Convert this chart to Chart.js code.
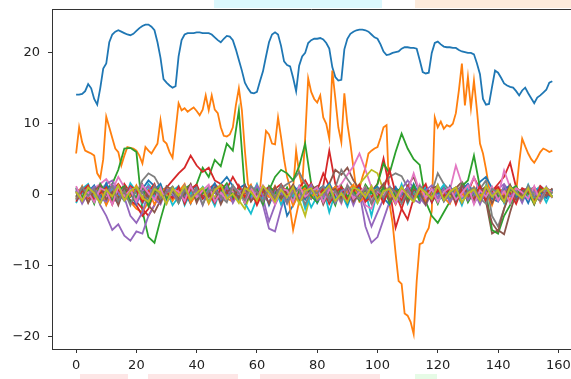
<!DOCTYPE html>
<html>
<head>
<meta charset="utf-8">
<script src="https://cdn.jsdelivr.net/npm/chart.js@4.4.0/dist/chart.umd.min.js"></script>
<style>
  html, body { margin: 0; padding: 0; background: #fff; }
  #wrap { width: 571px; height: 379px; }
</style>
</head>
<body>
<div id="wrap"><canvas id="lineChart" width="571" height="379"></canvas></div>
<script>
// tick labels
const xTicks = [0, 20, 40, 60, 80, 100, 120, 140, 160];
const yTicks = [-20, -10, 0, 10, 20];

// matplotlib tab10 cycle
const tab10 = ['#1f77b4', '#ff7f0e', '#2ca02c', '#d62728', '#9467bd',
               '#8c564b', '#e377c2', '#7f7f7f', '#bcbd22', '#17becf'];

// series 0 (blue), one value per step 0..158
const seriesTop = [
  14.1, 14.1, 14.2, 14.6, 15.6, 15.0, 13.5, 12.7, 15.0, 17.8,
  18.5, 21.5, 22.6, 23.0, 23.2, 23.0, 22.8, 22.6, 22.5, 22.7,
  23.1, 23.5, 23.8, 24.0, 24.0, 23.7, 23.2, 21.5, 19.3, 16.3,
  15.8, 15.4, 15.1, 15.3, 19.5, 21.8, 22.6, 22.8, 22.8, 22.8,
  22.9, 22.9, 22.8, 22.8, 22.8, 22.6, 22.2, 21.8, 21.5, 22.0,
  22.4, 22.3, 21.8, 20.5, 19.0, 17.5, 15.8, 15.0, 14.4, 14.3,
  14.5, 16.0, 17.4, 19.5, 21.5, 22.6, 22.9, 22.6, 21.0, 18.8,
  18.3, 18.1, 16.5, 14.6, 18.2, 19.5, 20.0, 21.4, 21.8, 22.0,
  22.0, 22.1, 21.9, 21.4, 20.6, 18.0, 16.6, 16.1, 16.2, 20.5,
  22.0, 22.7, 23.0, 23.2, 23.3, 23.3, 23.2, 23.0, 22.6, 22.2,
  22.0, 21.2, 20.2, 19.7, 19.8, 20.0, 20.1, 20.2, 20.6, 20.8,
  20.8, 20.7, 20.7, 20.6, 19.0, 17.3, 17.1, 17.2, 20.0, 21.4,
  21.6, 21.2, 20.9, 20.8, 20.8, 20.7, 20.7, 20.4, 20.2, 20.1,
  20.0, 20.0, 19.8, 18.5, 17.0, 13.5, 12.7, 12.8, 15.2, 17.5,
  17.2, 16.5, 15.7, 15.4, 15.2, 15.1, 14.6, 14.0, 14.7, 15.1,
  14.3, 13.6, 12.9, 13.7, 14.0, 14.4, 14.8, 15.8, 16.0
];

// series 1 (orange), one value per step 0..158
const seriesWide = [
  5.8, 9.5, 7.4, 6.2, 6.0, 5.8, 5.5, 3.0, 2.3, 5.0,
  11.0, 9.5, 8.0, 6.5, 6.0, 4.1, 5.5, 6.7, 6.6, 6.5,
  6.2, 5.5, 4.4, 6.7, 6.2, 5.8, 6.5, 7.2, 10.5, 7.6,
  7.2, 6.0, 5.2, 9.0, 12.9, 11.9, 12.2, 11.7, 12.0, 12.3,
  11.8, 11.2, 12.0, 14.0, 11.9, 14.0, 12.0, 11.5, 9.5, 8.3,
  8.2, 8.5, 9.5, 12.6, 15.0, 11.9, 6.2, 1.5, 0.5, 0.8,
  1.2, 0.6, 5.0, 9.0, 8.5, 7.2, 7.1, 10.9, 8.1, 5.0,
  2.5, 1.0, 0.8, 6.2, 3.0, 1.2, 8.0, 16.4, 14.5, 13.5,
  13.0, 14.0, 10.9, 10.0, 7.9, 17.5, 13.6, 9.5, 7.4, 14.3,
  10.0, 7.2, 3.8, 0.5, 0.8, 2.5, 3.8, 5.8, 6.2, 6.5,
  6.7, 8.0, 9.5, 9.8, -1.3, -4.0, -8.3, -12.2, -12.6, -16.8,
  -17.1, -18.0, -19.7, -12.2, -7.0, -6.8, -5.5, -4.7, -2.3, 10.9,
  9.5, 10.3, 9.3, 9.8, 9.6, 10.0, 11.5, 14.7, 18.5, 12.6,
  16.6, 12.2, 16.1, 11.9, 7.2, 5.8, 3.6, 1.0, 0.3, 0.5,
  -0.3, 0.6, 0.2, -0.4, 0.5, 0.8, 0.3, 4.5, 7.9, 6.8,
  5.8, 5.0, 4.5, 5.2, 6.0, 6.5, 6.3, 6.0, 6.2
];

// series 2..28, sampled at every second step (0, 2, ... 158)
const noise02 = [0.5,-0.8,1.2,0.3,-0.5,0.8,1.5,3.5,6.5,6.6, 6.0,-2.3,-6.0,-6.8,-3.5,-0.5,0.6,1.0,-0.2,0.4, 1.5,3.8,2.5,4.9,4.0,7.2,6.2,11.9,0.5,-0.3, 0.6,-0.5,0.3,1.0,-0.8,0.4,1.2,-0.3,0.5,-0.6, 0.8,0.2,-0.5,1.1,0.3,-0.9,0.6,0.0,1.0,-0.4, 0.5,-0.7,0.9,0.2,-1.0,0.4,0.8,-0.3,0.6,-0.5, 0.2,1.0,-0.6,0.4,0.9,-0.2,0.5,-0.8,0.3,0.7, -0.4,0.6,0.1,-0.5,0.8,0.2,-0.3,0.9,0.4,0.2];
const noise03 = [0.2,1.0,-0.5,0.8,-0.3,1.2,0.5,-0.8,1.5,0.3, -1.0,-2.0,-3.0,-1.5,0.5,1.0,2.0,3.0,3.8,5.5, 4.1,3.2,3.8,2.0,1.5,0.8,2.5,1.0,0.3,-0.5, 1.0,0.5,-0.3,0.8,1.5,0.2,-0.6,1.0,2.0,0.5, -0.5,1.2,6.2,1.5,0.3,-0.5,0.8,0.2,-0.8,0.5, 1.5,5.1,0.8,-4.7,-2.0,0.5,1.0,-0.5,0.8,-0.2, 0.6,0.2,-0.8,0.5,1.2,0.3,2.4,0.8,-0.3,0.5, 1.5,2.5,4.5,1.0,0.2,-0.5,0.8,0.3,0.6,0.2];
const noise04 = [-0.5,0.3,-1.0,0.8,-1.5,-3.0,-5.0,-4.2,-5.8,-6.5, -5.2,-5.5,-3.0,-1.5,0.5,-0.8,0.6,-0.3,1.0,0.2, -0.6,0.8,-0.2,0.5,-1.0,0.4,1.2,-0.3,0.6,-0.8, 0.3,-1.5,-4.8,-5.2,-2.0,0.5,-0.4,1.0,0.2,-0.5, 0.8,-0.3,1.5,0.2,-0.6,0.9,-0.2,0.4,-4.5,-6.8, -6.0,-3.5,-1.0,0.5,-0.3,0.8,1.2,-0.5,0.3,0.6, -0.4,0.9,0.2,-0.8,0.5,1.0,-0.3,0.6,0.1,-0.5, 0.8,1.5,0.3,-0.2,0.6,0.2,-0.4,0.7,0.3,0.5];
const noise05 = [0.3,-0.6,0.9,0.2,-0.4,1.0,-0.8,0.5,1.2,-0.3, 0.6,-1.2,0.4,-0.5,0.8,0.1,-0.7,0.9,0.3,-0.4, 0.7,-0.2,1.0,0.4,-0.9,0.6,0.2,-0.5,0.8,0.1, -0.6,0.5,1.1,-0.3,0.4,-0.8,0.7,0.2,-0.4,0.9, 0.3,-0.5,1.5,3.5,2.8,3.8,2.0,0.8,-0.3,0.6, 0.2,-0.7,0.9,0.4,-0.5,1.2,2.5,0.3,-0.6,0.5, 0.8,-0.2,0.4,0.9,1.8,0.6,-0.3,0.5,-1.0,-5.5, -5.0,-5.6,-2.5,0.3,0.8,-0.4,0.6,0.2,0.9,0.4];
const noise06 = [0.6,0.2,-0.4,0.9,1.5,2.2,1.0,0.3,-0.6,0.5, 0.8,-0.3,0.4,1.0,-0.5,0.7,0.2,-0.8,0.6,0.3, -0.2,0.9,0.4,-0.6,1.1,0.3,-0.4,0.8,0.2,-0.5, 0.6,1.2,-0.3,0.4,0.9,-0.7,0.5,0.1,1.0,-0.4, 0.3,0.8,-0.5,0.6,1.5,2.8,4.0,5.8,3.5,1.0, 0.4,-0.3,0.9,0.2,-0.6,0.7,0.3,1.2,-0.4,0.5, 0.8,-0.2,0.6,4.1,1.5,0.3,-0.5,0.9,0.2,0.6, -0.3,3.4,1.0,0.4,-0.6,0.8,0.3,-0.2,0.7,0.4];
const noise07 = [-0.3,0.5,0.9,-0.2,0.6,-0.8,0.3,1.1,-0.5,0.4, 0.2,2.0,3.0,2.5,1.0,-0.3,0.6,-0.7,0.5,0.2, 0.8,-0.4,0.3,1.0,-0.6,0.4,0.7,-0.3,1.2,0.5, -0.5,0.8,0.2,-0.4,0.9,1.5,2.0,3.2,1.5,0.6, 0.2,-0.6,0.5,1.0,3.5,2.2,1.0,0.3,-0.5,0.8, 0.4,1.5,2.5,3.0,2.6,1.0,0.2,-0.4,0.7,0.3, 3.0,1.5,0.6,-0.3,0.9,0.4,-0.6,0.8,2.0,-3.0, -4.5,-2.0,0.5,0.2,-0.4,0.8,0.3,1.2,0.5,-0.2];
const noise08 = [0.4,-0.2,0.6,0.3,-0.5,0.8,0.2,-0.3,0.5,0.9, 0.1,-0.6,0.4,0.7,-0.2,0.5,0.0,0.8,-0.4,0.3, 0.6,-0.1,0.4,0.9,-0.5,0.2,0.7,-0.8,-2.0,0.3, 0.5,-0.3,0.8,0.2,-0.4,0.6,0.1,-0.7,-3.0,0.4, 0.2,0.7,-0.2,0.5,0.9,-0.3,0.4,1.5,2.5,3.5, 3.0,0.6,-0.2,0.4,0.8,0.1,-0.5,0.6,0.3,-0.2, 0.7,0.2,-0.4,0.5,0.9,0.1,-0.3,0.6,0.2,-0.5, 0.4,0.8,0.1,-0.3,0.5,0.2,0.7,-0.1,0.4,0.3];
const noise09 = [-0.8,0.2,0.6,-0.4,1.0,0.3,-0.6,1.2,0.5,-0.2, 0.9,-0.5,1.5,0.4,-0.9,0.6,-1.5,-0.3,0.8,-0.6, 0.3,1.0,-0.8,0.5,-0.2,1.1,-0.4,0.7,-1.2,-2.7, -0.5,0.8,0.2,-1.0,0.6,-0.3,1.0,-0.7,0.4,-1.8, -0.2,0.9,-2.5,0.3,-0.6,1.2,0.5,-0.9,0.4,-3.0, 0.6,-0.4,1.0,0.2,-0.8,0.7,-0.2,1.3,0.4,-0.5, 0.8,-0.3,0.5,1.0,-0.6,0.3,0.9,-1.0,0.5,0.2, -0.7,1.1,0.4,-0.3,0.8,-0.5,0.6,1.0,-0.2,0.5];
const noise10 = [0.5,-0.4,1.0,0.3,-0.8,0.6,1.2,-0.2,0.4,0.9, -0.5,0.8,2.0,1.2,0.5,-0.6,1.0,0.3,-0.4,0.7, 1.2,-0.3,0.6,0.2,1.5,2.5,1.2,-0.5,0.8,0.3, -0.6,1.0,0.4,-0.3,0.7,-3.0,-1.5,0.5,0.9,-0.2, 0.6,1.2,-0.4,0.3,0.8,-0.5,1.0,0.2,-0.6,0.5, 0.9,-0.3,0.4,1.1,-0.7,0.6,0.2,-0.4,0.8,0.3, -0.5,1.0,0.4,-0.2,0.7,1.5,0.3,1.8,2.5,0.9, 0.4,-0.6,0.8,0.2,-0.3,0.6,1.0,-0.5,0.5,0.2];
const noise11 = [0.8,-0.3,0.5,1.0,-0.6,0.2,0.9,-0.4,0.6,-1.0, -2.0,-2.5,-1.0,0.4,-0.8,0.6,1.0,-0.5,0.3,0.8, -0.4,0.7,0.2,-0.6,0.9,0.3,-0.8,0.5,-0.2,0.6, 0.1,-0.5,0.8,-0.3,0.4,0.9,-5.0,-1.0,0.5,0.2, -0.6,0.8,0.3,-0.4,1.0,0.2,-0.7,0.6,0.1,-0.3, 0.7,-0.5,0.4,0.9,-0.2,0.5,-0.8,0.3,0.6,-0.4, 0.8,0.2,-0.5,0.6,0.1,-0.3,0.7,0.4,-0.6,0.5, 0.9,-0.2,0.4,0.8,-0.4,0.3,0.6,-0.1,0.5,0.7];
const noise12 = [-0.4,0.6,0.2,-0.7,0.9,0.3,-0.5,0.8,0.1,-0.3, 0.5,1.0,-0.2,0.6,-0.8,0.4,1.1,-0.4,0.7,0.2, -0.5,0.9,0.3,-0.6,0.6,1.0,-0.3,0.5,-0.9,0.4, 0.8,-0.2,0.6,2.5,3.5,3.0,2.0,4.0,7.2,1.5, 0.3,-0.6,0.8,0.2,-0.4,1.0,0.4,-0.3,0.6,0.2, 1.5,4.4,3.0,6.0,8.6,6.5,5.0,4.2,-1.0,-3.0, -4.0,-2.5,-1.0,0.5,1.2,2.0,5.5,1.0,0.3,-5.0, -5.5,-3.0,-1.5,0.4,-0.3,0.8,0.2,-0.5,0.6,0.3];
const noise13 = [0.3,0.9,-0.5,0.4,1.1,-0.2,0.6,1.5,0.3,-0.8, -1.5,-3.0,-2.0,0.5,0.9,-0.4,0.6,0.2,-0.7,1.0, 0.4,-0.3,0.8,1.5,0.6,-0.5,0.9,0.2,-0.6,0.7, 0.3,-0.4,1.0,0.5,-0.2,0.7,-0.8,0.4,0.9,-0.3, 0.6,3.0,1.2,0.2,-0.5,0.8,0.3,-0.6,1.0,0.4, -0.3,0.7,3.5,0.2,-2.0,-3.5,-0.5,0.6,-0.2,0.9, 0.4,-0.7,0.5,1.0,-0.3,0.6,0.2,-0.5,0.8,0.3, -0.6,0.9,0.4,-0.2,0.7,0.3,-0.4,0.8,0.1,0.5];
const noise14 = [-0.6,0.4,0.9,-0.3,0.6,1.5,2.0,0.5,-0.4,-3.0, -4.0,-2.5,0.3,0.8,-0.5,0.4,1.0,-0.2,0.6,0.3, -0.7,0.5,0.2,-0.4,0.8,0.3,-0.6,0.9,0.4,-0.3, 0.6,-0.5,-3.8,-1.5,0.4,0.8,-0.3,0.5,0.1,-0.6, 0.9,0.3,-0.4,0.7,0.2,-0.5,1.0,0.4,-2.0,-4.5, -2.5,-0.6,0.5,-0.3,0.8,2.0,1.0,-0.4,-1.5,0.3, 0.7,-0.2,0.5,0.9,-0.4,0.6,0.2,-0.7,0.4,0.8, -0.3,0.5,1.2,0.3,-0.5,0.7,0.2,-0.4,0.6,0.3];
const noise15 = [0.2,-0.5,0.7,0.3,-0.8,0.5,0.1,-0.4,0.9,0.3, -0.6,0.4,-1.5,-2.5,-0.8,0.5,0.2,-0.3,0.7,-0.5, 0.3,0.8,-0.2,0.5,-0.6,0.4,0.9,-0.4,0.2,0.6, -0.3,0.7,0.2,-0.8,0.5,0.1,-0.5,0.8,0.3,-0.2, 0.6,-0.4,0.9,0.2,-0.7,0.5,0.3,-0.2,0.8,0.4, -0.5,0.6,0.2,-0.8,0.4,0.9,-0.3,0.5,0.1,-0.6, 0.7,0.3,-0.4,0.6,0.2,-0.5,0.8,0.4,-0.9,-4.0, -5.2,-2.0,0.3,0.6,-0.2,0.5,0.2,-0.4,0.7,0.3];
const noise16 = [0.4,0.8,-0.3,0.5,1.0,-0.4,0.6,2.5,1.0,0.2, -0.5,0.7,0.3,-0.6,0.9,0.2,-0.4,0.8,0.4,-0.3, 0.6,0.2,-0.5,0.9,0.3,-0.7,0.5,0.1,0.8,-0.4, 0.3,0.7,-0.2,0.6,-0.5,0.4,0.9,-0.3,0.5,0.2, -0.6,0.8,0.3,-0.4,0.7,0.2,-0.5,0.9,-1.5,-2.0, 0.4,-0.3,0.8,0.2,-0.6,0.5,3.0,0.4,-0.2,0.7, 0.3,-0.5,0.9,0.4,-0.3,0.6,2.5,0.1,0.5,0.2, -0.4,0.8,0.3,-0.6,0.5,0.9,-0.2,0.4,0.7,0.3];
const noise17 = [-0.2,0.6,0.3,-0.5,0.8,0.2,-0.7,0.5,0.9,-0.3, 0.4,0.8,-0.4,0.6,0.2,-0.6,0.9,0.3,-0.2,0.5, 0.7,-0.5,0.4,0.9,-0.3,0.6,0.2,-0.8,0.5,0.3, -0.4,0.8,0.3,-0.6,0.5,0.1,-0.3,0.7,0.4,-0.2, 0.6,0.2,-0.5,0.9,0.3,-0.4,0.7,0.2,-0.6,0.5, 0.8,-0.3,0.4,0.6,-0.2,0.9,0.3,-0.5,0.7,0.2, -0.4,0.6,0.3,-0.7,0.5,0.8,-0.2,0.4,0.9,0.3, -0.5,0.7,0.2,-0.3,0.6,0.4,-0.6,0.8,0.3,0.5];
const noise18 = [0.3,0.7,0.1,-0.4,0.5,0.2,0.8,0.3,-0.2,0.6, 0.4,-0.3,0.7,0.2,0.5,-0.1,0.6,0.9,0.3,-0.2, 0.5,0.8,0.2,-0.3,0.6,0.1,0.7,0.4,-0.4,0.3, 0.6,0.2,-0.2,0.5,0.9,0.3,-0.1,0.6,0.2,0.7, 0.4,-0.3,0.5,0.8,0.1,0.4,0.7,-0.2,0.3,0.6, 0.9,0.2,-0.4,0.5,0.7,0.1,0.4,0.8,-0.2,0.3, 0.6,0.3,-0.3,0.7,0.2,0.5,0.9,0.1,-0.4,0.5, 0.7,0.3,0.6,-0.2,0.4,0.8,0.2,0.5,0.3,0.6];
const noise19 = [-1.2,0.8,1.5,-0.6,0.3,-1.4,1.0,0.2,-0.9,1.6, 0.4,-1.3,0.9,-0.2,1.4,-0.8,0.5,1.2,-1.5,0.3, -0.7,1.1,0.2,-1.6,0.8,-0.3,1.3,-1.0,0.6,-0.4, 1.5,-0.9,0.3,1.0,-1.4,0.7,-0.2,1.2,-2.0,0.4, 0.9,-1.1,1.4,-0.5,0.2,-1.7,0.8,1.1,-0.6,0.3, -1.2,1.0,0.4,-0.8,1.5,-1.3,0.6,-0.1,1.1,-0.9, 0.3,1.4,-1.0,0.5,-1.5,0.9,0.2,-0.7,1.3,-0.4, 0.8,-1.2,1.0,0.3,-0.9,1.4,-0.5,0.6,-1.1,0.7];
const noise20 = [0.9,-1.0,0.4,1.3,-0.7,1.6,-0.3,-1.2,0.8,0.2, -1.4,1.1,-0.5,0.7,1.5,-0.9,-0.2,1.0,0.4,-1.3, 1.2,-0.6,0.3,1.6,-1.1,0.5,-0.4,0.9,1.4,-0.8, -0.3,1.1,-1.5,0.6,0.2,-1.0,1.3,0.4,-0.7,1.0, -1.2,0.5,1.6,-0.4,0.8,-1.3,0.2,1.2,-0.9,0.6, 1.1,-0.5,-1.4,0.9,0.3,-0.8,1.5,-0.2,0.7,-1.1, 0.4,-0.9,1.2,-0.3,0.6,1.4,-1.2,0.2,0.9,-0.6, -1.0,0.7,1.3,-0.4,0.5,-1.2,0.9,0.3,-0.5,0.8];
const noise21 = [-0.6,1.2,-1.1,0.5,0.9,-1.5,0.3,1.1,-0.8,-0.2, 1.3,-0.7,0.6,-1.4,0.2,1.0,-0.9,0.4,1.5,-1.2, 0.1,0.8,-1.3,0.6,1.2,-0.5,-1.0,0.7,0.3,1.4, -1.1,0.5,-0.3,1.2,-0.8,0.9,-1.6,0.2,1.0,-0.4, 0.6,-1.2,0.3,1.1,-0.7,0.5,1.4,-1.0,-0.3,0.8, -0.9,1.3,0.2,-1.4,0.7,0.4,-0.6,1.2,-1.1,0.5, 1.0,-0.4,-1.3,0.8,0.3,-0.9,1.1,-0.2,0.6,-1.5, 0.9,0.2,-0.8,1.2,-0.6,0.4,1.0,-1.1,0.5,0.3];
const noise22 = [1.0,-0.4,0.7,-1.3,1.5,0.2,-0.9,0.6,1.2,-1.1, -0.3,0.9,-1.6,0.4,1.1,-0.6,0.3,-1.2,0.8,1.4, -0.7,0.2,1.0,-1.0,0.5,1.6,-0.4,0.8,-1.3,0.1, 0.7,-1.4,1.2,0.3,-0.6,1.0,-0.9,0.5,1.3,-0.2, -1.1,0.8,0.4,-1.5,1.2,-0.3,0.6,-0.8,1.4,0.2, -0.5,1.1,-1.2,0.4,0.9,-0.7,1.3,-1.0,0.3,0.6, -1.3,0.9,0.2,-0.5,1.5,-1.1,0.4,0.8,-0.6,1.0, -0.2,-1.0,0.7,1.2,-0.8,0.3,-1.4,0.9,0.5,-0.3];
const noise23 = [-1.0,0.5,1.3,-0.8,0.2,1.0,-1.4,0.7,-0.3,1.2, 0.6,-1.1,0.4,1.5,-0.9,0.3,-0.5,1.1,-1.3,0.8, 1.4,-0.6,0.2,-1.2,0.9,0.5,-1.0,1.3,-0.4,0.7, -1.5,0.4,1.0,-0.7,1.3,-0.2,0.8,-1.1,0.3,1.6, -0.6,0.9,-1.3,0.2,1.1,-0.8,0.5,1.4,-1.0,-0.3, 0.7,-1.2,1.0,0.4,-0.9,1.2,-0.5,0.3,1.5,-1.1, 0.6,-0.2,1.0,-1.4,0.8,0.3,-0.7,1.2,-0.9,0.4, 1.1,-0.6,0.2,-1.3,0.9,0.5,-1.0,1.2,0.3,-0.4];
const noise24 = [0.7,-1.3,0.2,1.1,-0.5,-1.0,1.4,0.3,-0.8,0.9, -1.2,0.5,1.2,-0.6,-1.4,0.8,0.1,-1.0,1.3,-0.4, 0.6,-1.5,0.9,0.3,-0.7,1.2,-1.2,0.4,0.8,-0.9, 1.3,-0.2,-1.1,0.7,0.4,-1.3,1.0,-0.6,0.2,1.4, -0.8,-0.3,1.1,-1.2,0.5,0.9,-1.5,0.6,-0.2,1.2, -1.0,0.4,0.8,-1.3,0.2,1.0,-0.7,-1.2,0.6,1.3, -0.5,0.9,-1.1,0.3,1.2,-0.8,0.5,-1.4,0.7,0.2, -0.9,1.3,-0.3,0.6,-1.2,1.0,0.4,-0.7,1.1,-0.5];
const noise25 = [-0.3,0.9,-1.2,0.6,1.3,-0.7,0.4,-1.5,1.0,0.2, -0.9,1.4,-0.4,0.3,-1.1,1.2,0.6,-0.8,0.1,1.5, -1.2,0.7,-0.3,1.0,-1.4,0.4,0.9,-0.6,1.3,-1.0, 0.2,0.8,-1.3,1.1,-0.5,0.3,1.4,-0.9,-0.4,0.7, 1.2,-1.4,0.5,0.8,-0.6,1.1,-1.0,0.2,0.9,-1.3, 0.4,1.5,-0.8,-0.2,1.0,-1.1,0.7,0.3,-1.4,0.9, 1.2,-0.6,0.4,-1.0,1.3,0.2,-0.9,0.6,1.1,-1.2, 0.5,-0.4,1.4,-0.8,0.3,1.0,-1.3,0.6,-0.2,0.9];
const noise26 = [1.2,-0.8,0.3,-1.1,0.9,0.5,-1.4,1.1,-0.2,0.6, -1.0,1.3,0.2,-0.7,1.0,-1.3,0.8,0.4,-0.9,1.2, -0.4,0.6,1.4,-1.0,0.3,-0.8,1.1,0.5,-1.2,0.9, -0.5,1.3,0.1,-1.4,0.8,0.6,-1.0,1.2,-0.3,0.4, 1.0,-1.1,0.7,0.2,-1.3,1.4,-0.6,0.3,1.1,-0.9, 0.5,-0.2,1.3,-1.2,0.6,0.1,-1.0,1.4,-0.5,0.8, -1.1,0.4,1.0,-0.7,0.2,1.3,-1.4,0.6,-0.3,1.1, -0.8,0.5,-1.2,0.9,0.3,-0.6,1.2,-1.0,0.7,0.4];
const noise27 = [-0.7,1.1,-0.2,0.8,-1.3,0.4,1.2,-0.9,0.5,-1.5, 0.9,0.3,-1.0,1.3,-0.6,0.2,1.1,-1.2,0.7,-0.4, 1.0,-1.4,0.5,0.8,-0.3,-1.1,1.3,0.2,-0.8,1.2, 0.4,-1.0,0.9,-0.5,1.4,-1.2,0.3,0.7,-1.4,0.6, 0.2,1.2,-0.9,0.5,-1.1,1.3,0.1,-0.6,1.0,-1.2, 0.8,-0.4,1.1,0.3,-1.3,0.6,-0.9,1.2,0.4,-0.7, 1.4,-1.0,0.2,0.9,-1.2,0.5,1.0,-0.5,-1.3,0.8, 0.3,-1.1,0.9,0.4,-0.7,1.3,-0.3,-0.9,0.6,0.2];
const noise28 = [0.4,-0.9,1.0,0.2,-1.2,0.7,-0.3,1.3,-0.8,0.5, 1.1,-0.5,-1.0,0.8,0.3,-1.3,0.9,-0.2,1.2,-0.7, 0.2,1.0,-1.1,0.6,1.4,-0.6,0.1,-1.2,0.9,0.4, -0.8,1.2,0.3,-1.0,0.7,-0.4,1.1,-1.3,0.5,0.9, -0.6,0.3,1.3,-0.9,0.2,-1.1,1.0,0.6,-0.4,1.2, -1.2,0.5,0.8,-0.7,1.1,-0.2,-1.0,0.9,0.3,-0.6, 1.3,-0.8,0.4,1.0,-1.1,0.2,0.7,-0.9,1.2,-0.3, 0.6,-1.0,1.1,0.2,-0.5,0.9,-1.2,0.4,1.0,-0.4];

const allSeries = [seriesTop, seriesWide,
  noise02, noise03, noise04, noise05, noise06, noise07, noise08, noise09, noise10,
  noise11, noise12, noise13, noise14, noise15, noise16, noise17, noise18, noise19,
  noise20, noise21, noise22, noise23, noise24, noise25, noise26, noise27, noise28];

// full series use step 1, sampled ones use step 2
function toPoints(values) {
  const step = values.length > 100 ? 1 : 2;
  return values.map((v, i) => ({ x: i * step, y: v }));
}

const datasets = allSeries.map((values, i) => ({
  label: 'series ' + i,
  data: toPoints(values),
  borderColor: tab10[i % 10],
  borderWidth: 1.8,
  pointRadius: 0,
  tension: 0,
  fill: false,
  order: allSeries.length - i   // later series drawn on top, like matplotlib
}));

// white page, the faint coloured strips of the screenshot, and the top spine
const framePlugin = {
  id: 'frame',
  beforeDraw(chart) {
    const c = chart.ctx;
    c.save();
    c.fillStyle = '#ffffff';
    c.fillRect(0, 0, chart.width, chart.height);
    c.fillStyle = '#dcf8fd';
    c.fillRect(214, 0, 168, 8);
    c.fillStyle = '#fdebdc';
    c.fillRect(415, 0, 156, 8);
    c.fillStyle = '#fde6e6';
    c.fillRect(80, 374, 48, 5);
    c.fillRect(148, 374, 90, 5);
    c.fillRect(260, 374, 120, 5);
    c.fillStyle = '#e6fbe6';
    c.fillRect(415, 374, 22, 5);
    c.restore();
  },
  afterDraw(chart) {
    const a = chart.chartArea;
    const c = chart.ctx;
    c.save();
    c.strokeStyle = '#333333';
    c.lineWidth = 1;
    c.beginPath();
    c.moveTo(a.left, a.top + 0.5);
    c.lineTo(a.right, a.top + 0.5);
    c.stroke();
    c.restore();
  }
};

const tickFont = { family: 'DejaVu Sans', size: 13 };
const minus = v => String(v).replace('-', '\u2212');

new Chart(document.getElementById('lineChart').getContext('2d'), {
  type: 'line',
  data: { datasets: datasets },
  options: {
    responsive: false,
    devicePixelRatio: 1,
    animation: false,
    layout: { padding: { top: 9, right: 0, left: 0, bottom: 0 } },
    plugins: {
      legend: { display: false },
      tooltip: { enabled: false }
    },
    scales: {
      x: {
        type: 'linear',
        min: -8,
        max: 164.2,
        afterBuildTicks: scale => { scale.ticks = xTicks.map(v => ({ value: v })); },
        afterFit: scale => { scale.height = 30; scale.paddingLeft = 0; scale.paddingRight = 0; },
        grid: { drawOnChartArea: false, drawTicks: true, tickLength: 4, tickColor: '#333' },
        border: { display: true, color: '#333', width: 1 },
        ticks: { font: tickFont, color: '#222', padding: 5, maxRotation: 0, callback: minus }
      },
      y: {
        type: 'linear',
        min: -21.8,
        max: 26.2,
        afterBuildTicks: scale => { scale.ticks = yTicks.map(v => ({ value: v })); },
        afterFit: scale => { scale.width = 52; scale.paddingTop = 0; scale.paddingBottom = 0; },
        grid: { drawOnChartArea: false, drawTicks: true, tickLength: 4, tickColor: '#333' },
        border: { display: true, color: '#333', width: 1 },
        ticks: { font: tickFont, color: '#222', padding: 8, callback: minus }
      }
    }
  },
  plugins: [framePlugin]
});
</script>
</body>
</html>
